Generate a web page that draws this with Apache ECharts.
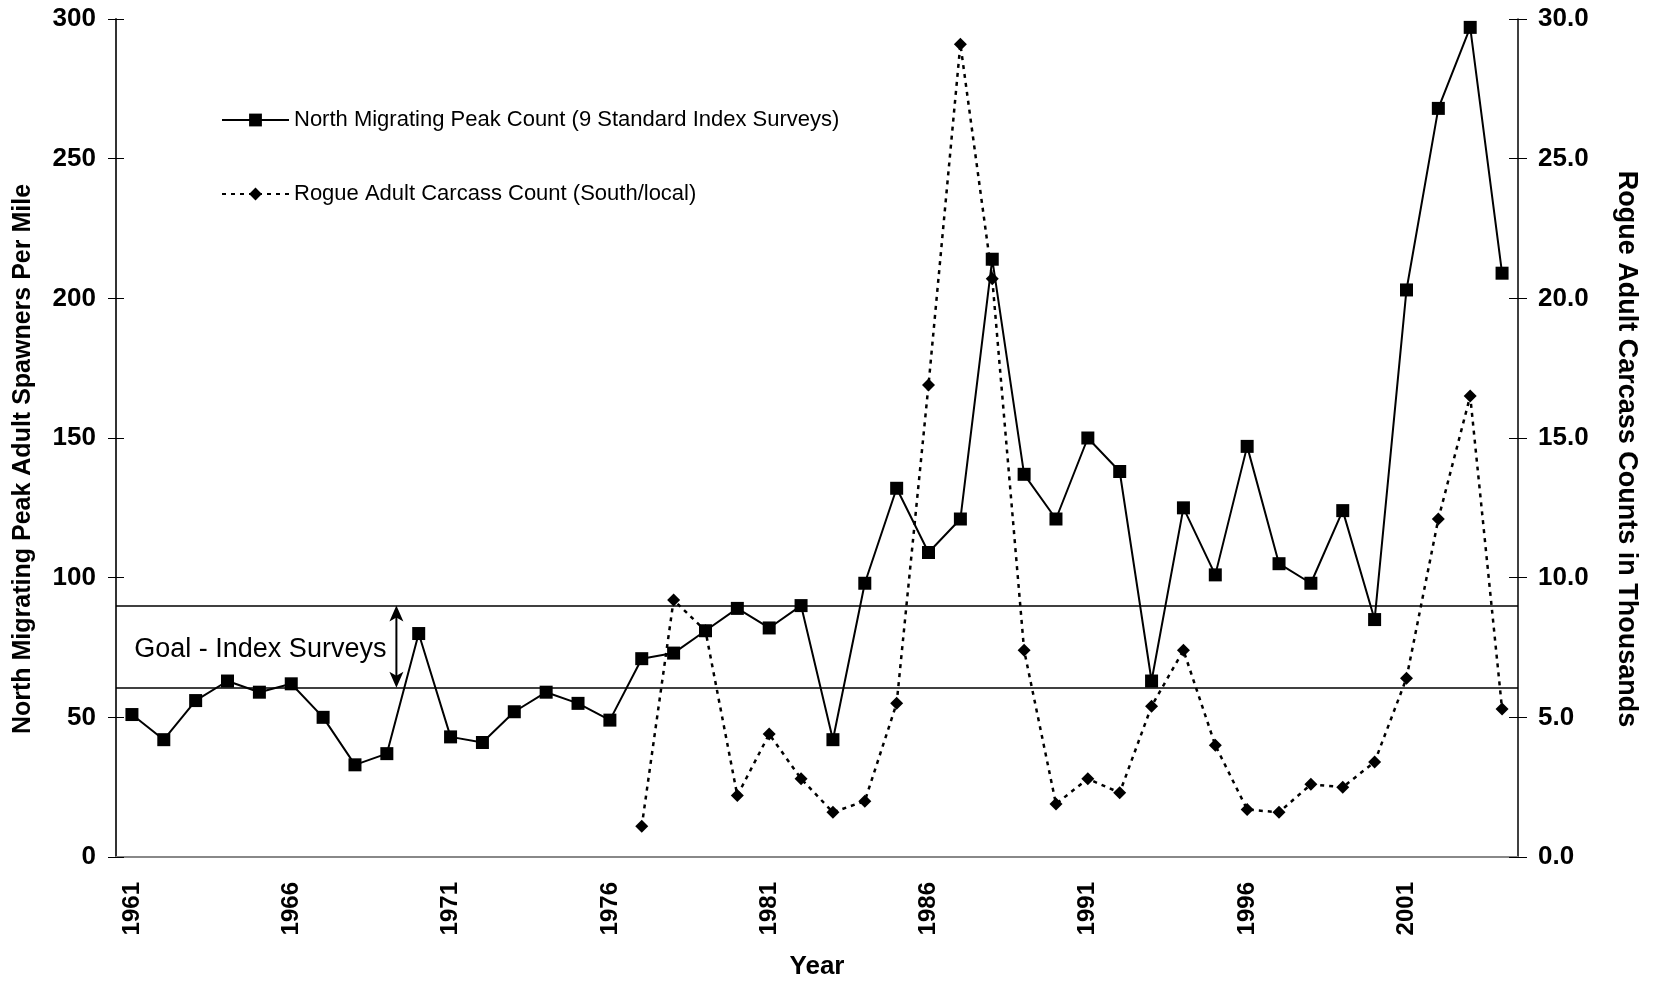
<!DOCTYPE html>
<html>
<head>
<meta charset="utf-8">
<title>Rogue spawners</title>
<script src="https://cdn.jsdelivr.net/npm/echarts@6/dist/echarts.min.js"></script>
<style>
  html, body { margin: 0; padding: 0; background: #fff; }
  #chart { width: 1653px; height: 985px; }
</style>
</head>
<body>
<div id="chart"></div>
<script>
const years = ['1961', '1962', '1963', '1964', '1965', '1966', '1967', '1968', '1969', '1970',
  '1971', '1972', '1973', '1974', '1975', '1976', '1977', '1978', '1979', '1980',
  '1981', '1982', '1983', '1984', '1985', '1986', '1987', '1988', '1989', '1990',
  '1991', '1992', '1993', '1994', '1995', '1996', '1997', '1998', '1999', '2000',
  '2001', '2002', '2003', '2004']

// spawners per mile (left axis)
const peakCount = [51, 42, 56, 63, 59, 62, 50, 33, 37, 80,
  43, 41, 52, 59, 55, 49, 71, 73, 81, 89,
  82, 90, 42, 98, 132, 109, 121, 214, 137, 121,
  150, 138, 63, 125, 101, 147, 105, 98, 124, 85,
  203, 268, 297, 209]

// carcasses in thousands (right axis), no counts before 1977
const carcassCount = [null, null, null, null, null, null, null, null, null, null,
  null, null, null, null, null, null, 1.1, 9.2, 8.1, 2.2,
  4.4, 2.8, 1.6, 2.0, 5.5, 16.9, 29.1, 20.7, 7.4, 1.9,
  2.8, 2.3, 5.4, 7.4, 4.0, 1.7, 1.6, 2.6, 2.5, 3.4,
  6.4, 12.1, 16.5, 5.3]

const goalHigh = 90
const goalLow = 60.6
const leftTicks = [0, 300, 50]
const rightTicks = [0, 30, 5]

const font = '"Liberation Sans", Arial, sans-serif'
const black = '#000'

const chart = echarts.init(document.getElementById('chart'))

const option = {
  backgroundColor: '#fff',
  animation: false,
  textStyle: { fontFamily: font, color: black },
  grid: { left: 116, right: 135, top: 19, bottom: 126, containLabel: false },
  legend: {
    orient: 'vertical',
    left: 216,
    top: 104,
    itemWidth: 67,
    itemHeight: 16,
    itemGap: 52,
    textStyle: { fontFamily: font, fontSize: 22, color: black },
    data: ['North Migrating Peak Count (9 Standard Index Surveys)', 'Rogue Adult Carcass Count (South/local)']
  },
  xAxis: [
    {
      type: 'category',
      position: 'bottom',
      data: years,
      boundaryGap: true,
      name: 'Year',
      nameLocation: 'middle',
      nameGap: 97,
      nameTextStyle: { fontFamily: font, fontSize: 26, fontWeight: 'bold', color: black },
      axisLine: { lineStyle: { color: black, width: 2 } },
      axisTick: { interval: 0, length: 9, lineStyle: { color: black, width: 1 } },
      axisLabel: {
        interval: 4,
        rotate: 90,
        margin: 25,
        fontFamily: font,
        fontSize: 24,
        fontWeight: 'bold',
        color: black
      },
      splitLine: { show: false }
    },
    {
      type: 'category',
      position: 'bottom',
      data: years,
      boundaryGap: true,
      axisLine: { show: false },
      axisTick: { inside: true, interval: 0, length: 9, lineStyle: { color: black, width: 1 } },
      axisLabel: { show: false },
      splitLine: { show: false }
    },
    {
      type: 'category',
      position: 'top',
      data: years,
      boundaryGap: true,
      axisLine: { lineStyle: { color: '#888', width: 2 } },
      axisTick: { show: false },
      axisLabel: { show: false },
      splitLine: { show: false }
    }
  ],
  yAxis: [
    {
      type: 'value',
      position: 'left',
      min: leftTicks[0],
      max: leftTicks[1],
      interval: leftTicks[2],
      name: 'North Migrating Peak Adult Spawners Per Mile',
      nameLocation: 'middle',
      nameGap: 80,
      nameTextStyle: { fontFamily: font, fontSize: 25, fontWeight: 'bold', color: black, padding: [0, 42, 0, 0] },
      axisLine: { show: true, lineStyle: { color: '#333', width: 2 } },
      axisTick: { show: true, length: 8, lineStyle: { color: black, width: 1 } },
      axisLabel: { margin: 20, fontFamily: font, fontSize: 26, fontWeight: 'bold', color: black },
      splitLine: { show: false }
    },
    {
      type: 'value',
      position: 'right',
      min: rightTicks[0],
      max: rightTicks[1],
      interval: rightTicks[2],
      name: 'Rogue Adult Carcass Counts in Thousands',
      nameLocation: 'middle',
      nameRotate: -90,
      nameGap: 95,
      nameTextStyle: { fontFamily: font, fontSize: 27, fontWeight: 'bold', color: black, padding: [0, 0, 0, 22] },
      axisLine: { show: true, lineStyle: { color: black, width: 1.5 } },
      axisTick: { show: true, length: 9, lineStyle: { color: black, width: 1 } },
      axisLabel: {
        margin: 20,
        fontFamily: font,
        fontSize: 26,
        fontWeight: 'bold',
        color: black,
        formatter: v => v.toFixed(1)
      },
      splitLine: { show: false }
    },
    {
      type: 'value',
      position: 'left',
      min: leftTicks[0],
      max: leftTicks[1],
      interval: leftTicks[2],
      axisLine: { show: false },
      axisTick: { show: true, inside: true, length: 8, lineStyle: { color: black, width: 1 } },
      axisLabel: { show: false },
      splitLine: { show: false }
    },
    {
      type: 'value',
      position: 'right',
      min: rightTicks[0],
      max: rightTicks[1],
      interval: rightTicks[2],
      axisLine: { show: false },
      axisTick: { show: true, inside: true, length: 9, lineStyle: { color: black, width: 1 } },
      axisLabel: { show: false },
      splitLine: { show: false }
    }
  ],
  series: [
    {
      name: 'North Migrating Peak Count (9 Standard Index Surveys)',
      type: 'line',
      xAxisIndex: 0,
      yAxisIndex: 0,
      data: peakCount,
      symbol: 'rect',
      symbolSize: 13,
      showAllSymbol: true,
      itemStyle: { color: black },
      lineStyle: { color: black, width: 2 },
      z: 3,
      markLine: {
        silent: true,
        symbol: 'none',
        label: { show: false },
        lineStyle: { color: black, width: 1.5, type: 'solid' },
        data: [{ yAxis: goalHigh }, { yAxis: goalLow }]
      }
    },
    {
      name: 'Rogue Adult Carcass Count (South/local)',
      type: 'line',
      xAxisIndex: 0,
      yAxisIndex: 1,
      data: carcassCount,
      symbol: 'diamond',
      symbolSize: 13,
      showAllSymbol: true,
      itemStyle: { color: black },
      lineStyle: { color: black, width: 2.5, type: [4, 5] },
      z: 2
    }
  ]
}

chart.setOption(option)

// goal arrow and its label: sits a little right of the 1969 point
const finder = { xAxisIndex: 0, yAxisIndex: 0 }
const p69 = chart.convertToPixel(finder, ['1969', goalHigh])
const p70 = chart.convertToPixel(finder, ['1970', goalHigh])
const ax = p69[0] + (p70[0] - p69[0]) * 0.3
const yTop = chart.convertToPixel(finder, ['1969', goalHigh])[1]
const yBot = chart.convertToPixel(finder, ['1969', goalLow])[1]
const yMid = chart.convertToPixel(finder, ['1969', (goalHigh + goalLow) / 2 - 1])[1]
const head = 16
const half = 7
chart.setOption({
  graphic: [
    {
      type: 'line',
      shape: { x1: ax, y1: yTop + 4, x2: ax, y2: yBot - 4 },
      style: { stroke: black, lineWidth: 2 },
      z: 10
    },
    {
      type: 'polygon',
      shape: { points: [[ax, yTop], [ax - half, yTop + head], [ax, yTop + head - 4], [ax + half, yTop + head]] },
      style: { fill: black },
      z: 10
    },
    {
      type: 'polygon',
      shape: { points: [[ax, yBot], [ax - half, yBot - head], [ax, yBot - head + 4], [ax + half, yBot - head]] },
      style: { fill: black },
      z: 10
    },
    {
      type: 'text',
      x: ax - 10,
      y: yMid,
      style: {
        text: 'Goal - Index Surveys',
        fontFamily: font,
        fontSize: 27,
        fill: black,
        align: 'right',
        verticalAlign: 'middle'
      },
      z: 10
    }
  ]
})
</script>
</body>
</html>
